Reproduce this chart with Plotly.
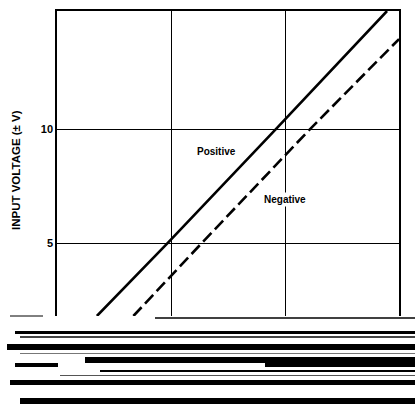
import plotly.graph_objects as go

# ---- data ----
pos_x = [0.35, 0.97, 1.92, 2.895]
pos_y = [1.8, 5.0, 10.0, 15.18]
neg_x = [0.67, 1.27, 2.22, 3.0]
neg_y = [1.8, 5.0, 10.0, 13.95]
y_ticks = [5, 10]
y_tick_labels = ["5", "10"]
x_grid = [1, 2]
series_labels = ["Positive", "Negative"]
y_title = "INPUT VOLTAGE (± V)"

W, H = 415, 404
L, R, T, B = 57, 16, 11, 88
FONT = "Liberation Sans, Arial, Helvetica, sans-serif"

fig = go.Figure()
fig.add_trace(go.Scatter(x=pos_x, y=pos_y, mode="lines",
                         line=dict(color="black", width=2.6), name=series_labels[0]))
fig.add_trace(go.Scatter(x=neg_x, y=neg_y, mode="lines",
                         line=dict(color="black", width=2.6, dash="12px,5px"), name=series_labels[1]))

# pixel -> paper helpers for decoration (scan artefacts / partial borders)
pw, ph = W - L - R, H - T - B
def px(x):
    return (x - L) / pw
def py(y):
    return (H - B - y) / ph

shapes = []
# bottom border (partially visible in the scan)
shapes.append(dict(type="line", xref="paper", yref="paper", x0=px(155), x1=px(415),
                   y0=py(318), y1=py(318), line=dict(color="black", width=1.5)))
shapes.append(dict(type="line", xref="paper", yref="paper", x0=px(10), x1=px(43),
                   y0=py(316), y1=py(316), line=dict(color="black", width=1)))
# scan stripes below the chart
stripes = [
    (331, 334, 15, 415, "black"),
    (336, 338, 20, 415, "#444"),
    (344, 350, 7, 415, "black"),
    (353, 354, 20, 415, "#777"),
    (357, 363, 85, 415, "black"),
    (363, 367, 265, 415, "black"),
    (363, 367, 15, 58, "black"),
    (370, 372, 100, 415, "black"),
    (375, 376, 60, 415, "#555"),
    (380, 385, 10, 415, "black"),
    (398, 404, 20, 415, "black"),
]
for y0, y1, x0, x1, c in stripes:
    shapes.append(dict(type="rect", xref="paper", yref="paper", x0=px(x0), x1=px(x1),
                       y0=py(y1), y1=py(y0), fillcolor=c, line=dict(width=0), layer="above"))

fig.update_layout(
    width=W, height=H,
    margin=dict(l=L, r=R, t=T, b=B),
    paper_bgcolor="white", plot_bgcolor="white",
    showlegend=False,
    font=dict(family=FONT, color="black"),
    shapes=shapes,
    annotations=[
        dict(text=series_labels[0], x=1.395, y=9.03, xref="x", yref="y", showarrow=False,
             font=dict(family=FONT, size=10, color="black", weight="bold")),
        dict(text=series_labels[1], x=2.0, y=6.89, xref="x", yref="y", showarrow=False,
             bgcolor="white", font=dict(family=FONT, size=10, color="black", weight="bold")),
        dict(text=y_title, x=px(16), y=py(170), xref="paper", yref="paper", showarrow=False,
             textangle=-90, xanchor="center", yanchor="middle",
             font=dict(family=FONT, size=11.5, color="black", weight="bold")),
    ],
)
fig.update_xaxes(range=[0, 3], tickvals=x_grid, showticklabels=False, ticks="",
                 showgrid=True, gridcolor="black", gridwidth=1, zeroline=False,
                 showline=True, side="top", mirror=False, linecolor="black", linewidth=1.5)
fig.update_yaxes(range=[1.8, 15.18], tickvals=y_ticks, ticktext=y_tick_labels, ticks="",
                 tickfont=dict(family=FONT, size=11, color="black", weight="bold"),
                 showgrid=True, gridcolor="black", gridwidth=1, zeroline=False,
                 showline=True, mirror=True, linecolor="black", linewidth=1.5)

fig.write_html("out.html", config={"displayModeBar": False},
               post_script="document.body.style.margin='0';document.body.style.overflow='hidden';")
